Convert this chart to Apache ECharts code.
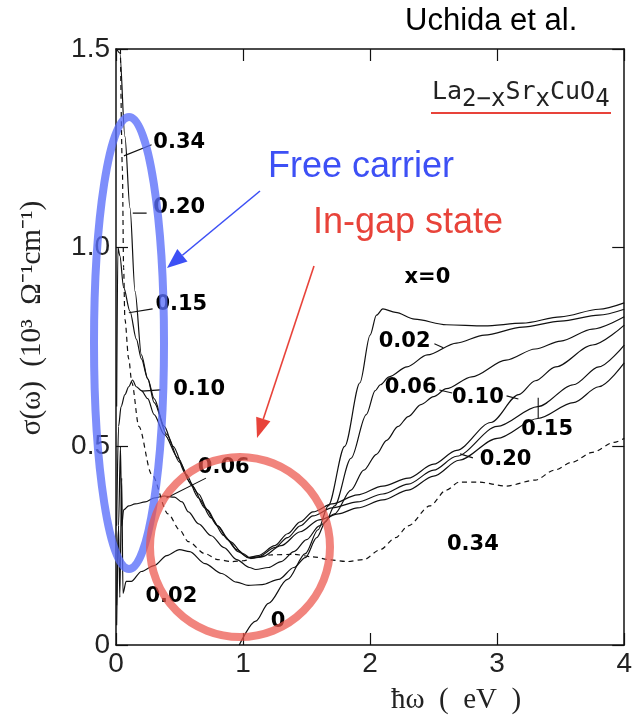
<!DOCTYPE html>
<html><head><meta charset="utf-8">
<script src="https://cdn.jsdelivr.net/npm/echarts/dist/echarts.min.js"></script>
<style>html,body{margin:0;padding:0;background:#fff}#c{width:635px;height:719px}</style>
</head><body><div id="c"></div><script>
// ---- data (photon energy eV, sigma 10^3 Ohm^-1 cm^-1) ----
const xTicks = [0, 1, 2, 3, 4];
const yTicks = [0, 0.5, 1.0, 1.5];
const curve_x000 = [[0.97,0],[1.1,0.06],[1.2,0.105],[1.35,0.165],[1.49,0.23],[1.59,0.29],[1.67,0.35],[1.8,0.5],[1.92,0.66],[2.0,0.78],[2.05,0.83],[2.1,0.846],[2.2,0.837],[2.35,0.82],[2.6,0.806],[2.9,0.803],[3.2,0.81],[3.5,0.826],[3.8,0.845],[4.0,0.861]];
const curve_x002 = [[0.005,0.05],[0.02,0.3],[0.03,0.12],[0.045,0.42],[0.055,0.13],[0.08,0.16],[0.12,0.16],[0.2,0.185],[0.3,0.2],[0.4,0.225],[0.5,0.24],[0.58,0.235],[0.7,0.205],[0.83,0.18],[0.95,0.158],[1.04,0.15],[1.15,0.152],[1.28,0.165],[1.4,0.195],[1.49,0.22],[1.58,0.27],[1.65,0.31],[1.72,0.35],[1.85,0.47],[1.97,0.58],[2.04,0.64],[2.08,0.655],[2.15,0.675],[2.29,0.70],[2.45,0.73],[2.68,0.76],[2.9,0.78],[3.2,0.80],[3.5,0.815],[3.8,0.83],[4.0,0.845]];
const curve_x006 = [[0.005,0.1],[0.02,0.3],[0.035,0.5],[0.045,0.3],[0.06,0.34],[0.1,0.35],[0.15,0.355],[0.23,0.36],[0.3,0.37],[0.38,0.375],[0.46,0.372],[0.52,0.36],[0.57,0.335],[0.65,0.305],[0.75,0.275],[0.85,0.245],[0.95,0.215],[1.05,0.195],[1.1,0.19],[1.2,0.195],[1.3,0.21],[1.4,0.235],[1.5,0.265],[1.6,0.3],[1.72,0.33],[1.85,0.39],[1.95,0.44],[2.05,0.48],[2.13,0.515],[2.22,0.55],[2.3,0.575],[2.4,0.605],[2.5,0.625],[2.6,0.645],[2.8,0.675],[3.07,0.717],[3.3,0.745],[3.5,0.765],[3.75,0.795],[4.0,0.826]];
const curve_x010 = [[0.005,0.3],[0.02,0.55],[0.04,0.6],[0.07,0.63],[0.1,0.65],[0.13,0.667],[0.16,0.65],[0.2,0.64],[0.25,0.62],[0.3,0.58],[0.38,0.53],[0.49,0.47],[0.58,0.41],[0.65,0.38],[0.72,0.34],[0.8,0.30],[0.88,0.265],[0.96,0.235],[1.04,0.22],[1.12,0.225],[1.25,0.25],[1.35,0.28],[1.45,0.31],[1.55,0.335],[1.7,0.355],[1.9,0.378],[2.1,0.40],[2.3,0.42],[2.5,0.455],[2.68,0.49],[2.95,0.56],[3.17,0.63],[3.3,0.665],[3.46,0.70],[3.75,0.755],[4.0,0.805]];
const curve_x015 = [[0.005,0.6],[0.015,1.0],[0.03,0.98],[0.06,0.9],[0.11,0.84],[0.16,0.77],[0.2,0.72],[0.25,0.67],[0.3,0.62],[0.38,0.55],[0.45,0.5],[0.55,0.43],[0.65,0.37],[0.75,0.32],[0.85,0.275],[0.95,0.24],[1.04,0.22],[1.12,0.222],[1.25,0.245],[1.35,0.27],[1.45,0.30],[1.55,0.325],[1.7,0.345],[1.9,0.36],[2.1,0.38],[2.3,0.405],[2.5,0.44],[2.68,0.475],[3.0,0.55],[3.32,0.60],[3.6,0.655],[3.8,0.70],[4.0,0.755]];
const curve_x020 = [[0.005,1.5],[0.03,1.49],[0.07,1.28],[0.11,1.1],[0.15,0.89],[0.2,0.73],[0.25,0.67],[0.3,0.61],[0.4,0.53],[0.5,0.46],[0.6,0.40],[0.7,0.345],[0.8,0.30],[0.9,0.26],[1.0,0.23],[1.06,0.218],[1.15,0.222],[1.3,0.25],[1.45,0.285],[1.6,0.315],[1.75,0.33],[1.9,0.345],[2.1,0.365],[2.3,0.39],[2.5,0.425],[2.7,0.465],[3.0,0.52],[3.32,0.57],[3.6,0.61],[3.8,0.65],[4.0,0.71]];
const curve_x034 = [[0.035,1.5],[0.05,1.2],[0.06,0.95],[0.07,0.82],[0.1,0.72],[0.125,0.66],[0.18,0.55],[0.28,0.43],[0.41,0.33],[0.5,0.29],[0.57,0.26],[0.7,0.23],[0.8,0.215],[0.91,0.21],[1.0,0.212],[1.1,0.22],[1.22,0.227],[1.4,0.228],[1.55,0.222],[1.69,0.214],[1.82,0.21],[1.95,0.215],[2.08,0.24],[2.2,0.27],[2.3,0.30],[2.47,0.35],[2.6,0.39],[2.7,0.41],[2.85,0.41],[3.07,0.40],[3.3,0.415],[3.45,0.44],[3.59,0.46],[3.75,0.485],[3.92,0.51],[4.0,0.52]];
const curveNames = ['0','0.02','0.06','0.10','0.15','0.20','0.34'];
const curveData = [curve_x000, curve_x002, curve_x006, curve_x010, curve_x015, curve_x020, curve_x034];
const curveDashed = [false,false,false,false,false,false,true];
// curve labels (text, energy, sigma)
const labelTexts = ['0.34','0.20','0.15','0.10','0.06','0.02','0','x=0','0.02','0.06','0.10','0.15','0.20','0.34'];
const labelE = [0.498,0.498,0.514,0.654,0.848,0.436,1.276,2.451,2.272,2.319,2.848,3.393,3.066,2.809];
const labelS = [1.264,1.102,0.856,0.642,0.4455,0.123,0.058,0.924,0.763,0.649,0.624,0.541,0.468,0.252];
// leader lines [e1,s1,e2,s2]
const leaders = [[0.28,1.259,0.062,1.231],[0.241,1.087,0.132,1.087],[0.288,0.846,0.101,0.836],[0.35,0.642,0.202,0.639],[0.708,0.42,0.397,0.37],[2.506,0.758,2.576,0.748],[2.545,0.642,2.646,0.634],[3.074,0.627,3.167,0.619],[3.323,0.622,3.323,0.571],[2.809,0.471,2.708,0.481]];

const chart = echarts.init(document.getElementById('c'), null, {renderer:'canvas'});
const axisLineStyle = {color:'#111', width:1.5};
const tickStyle = {color:'#111', width:1.2};
const labelFont = {fontSize:28, color:'#222', fontFamily:'Liberation Sans, Arial, sans-serif'};

const series = curveData.map((d,i)=>({
  type:'line', name:curveNames[i], data:d, showSymbol:false, smooth:0.3, smoothMonotone:'x', silent:true,
  lineStyle:{color:'#111', width:1.2, type: curveDashed[i] ? [5,4] : 'solid'}, z:3
}));
leaders.forEach(l=>series.push({type:'line', data:[[l[0],l[1]],[l[2],l[3]]], showSymbol:false, silent:true, lineStyle:{color:'#111', width:1.1}, z:3}));
series.push({
  type:'scatter', symbol:'circle', symbolSize:0, itemStyle:{color:'rgba(0,0,0,0)'}, silent:true, z:4,
  data: labelTexts.map((t,i)=>({name:t, value:[labelE[i], labelS[i]]})),
  label:{show:true, position:'inside', formatter:'{b}', fontSize:21, fontWeight:'bold', fontFamily:'DejaVu Sans, sans-serif', color:'#000', opacity:1}
});

function arrow(x1,y1,x2,y2,color,hl,hw){
  const a = Math.atan2(y2-y1,x2-x1);
  const bx = x2 - hl*Math.cos(a), by = y2 - hl*Math.sin(a);
  const px = -Math.sin(a)*hw/2, py = Math.cos(a)*hw/2;
  return [
    {type:'line', z:100, shape:{x1:x1,y1:y1,x2:bx,y2:by}, style:{stroke:color, lineWidth:1.6}},
    {type:'polygon', z:100, shape:{points:[[x2,y2],[bx+px,by+py],[bx-px,by-py]]}, style:{fill:color}}
  ];
}
const blue = '#3d50f5', red = '#e8433a';
const graphic = [
  {type:'text', z:100, x:405, y:21, style:{text:'Uchida et al.', fontSize:31, fontFamily:'Liberation Sans, Arial, sans-serif', fill:'#000', textVerticalAlign:'middle'}},
  {type:'text', z:100, x:432, y:96, style:{text:'{n|La}{s|2−x}{n|Sr}{s|x}{n|CuO}{s|4}', fill:'#222', textVerticalAlign:'middle',
     rich:{n:{fontSize:25, fontFamily:'DejaVu Sans Mono, monospace', fill:'#222', verticalAlign:'top', padding:[0,0,7,0]}, s:{fontSize:24, fontFamily:'DejaVu Sans Mono, monospace', fill:'#222', verticalAlign:'bottom', padding:[7,0,0,0]}}}},
  {type:'line', z:100, shape:{x1:431,y1:113,x2:611,y2:113}, style:{stroke:red, lineWidth:2}},
  {type:'text', z:100, x:268, y:167, style:{text:'Free carrier', fontSize:36, fontFamily:'Liberation Sans, Arial, sans-serif', fill:blue, textVerticalAlign:'middle'}},
  {type:'text', z:100, x:313, y:223, style:{text:'In-gap state', fontSize:36, fontFamily:'Liberation Sans, Arial, sans-serif', fill:red, textVerticalAlign:'middle'}},
  {type:'ellipse', z:100, shape:{cx:129, cy:343, rx:35, ry:226}, style:{fill:'none', stroke:'rgba(90,110,250,0.78)', lineWidth:8}},
  {type:'circle', z:100, shape:{cx:240, cy:547, r:90}, style:{fill:'none', stroke:'rgba(235,85,75,0.72)', lineWidth:8}},
  ...arrow(260,191,167,268,blue,20,16),
  ...arrow(314,266,257,438,red,20,15),
  {type:'text', z:100, x:32, y:318, rotation:Math.PI/2, style:{text:'σ(ω)  (10³  Ω⁻¹cm⁻¹)', fontSize:29, fontFamily:'Liberation Serif, Times New Roman, serif', fill:'#222', textAlign:'center', textVerticalAlign:'middle'}},
  {type:'text', z:100, x:456, y:700, style:{text:'ħω  (  eV  )', fontSize:29, fontFamily:'Liberation Serif, Times New Roman, serif', fill:'#222', textAlign:'center', textVerticalAlign:'middle'}}
];

const xBase = {type:'value', min:xTicks[0], max:xTicks[xTicks.length-1], interval:1, splitLine:{show:false},
  axisLine:{show:true, onZero:false, lineStyle:axisLineStyle}, axisTick:{show:true, inside:true, length:12, lineStyle:tickStyle}};
const yBase = {type:'value', min:yTicks[0], max:yTicks[yTicks.length-1], interval:0.5, splitLine:{show:false},
  axisLine:{show:true, onZero:false, lineStyle:axisLineStyle}, axisTick:{show:true, inside:true, length:12, lineStyle:tickStyle}};

chart.setOption({
  animation:false,
  backgroundColor:'#fff',
  grid:{left:116, right:5, top:49, bottom:74, containLabel:false},
  xAxis:[
    Object.assign({}, xBase, {position:'bottom', axisLabel:Object.assign({margin:5}, labelFont)}),
    Object.assign({}, xBase, {position:'top', axisLabel:{show:false}})
  ],
  yAxis:[
    Object.assign({}, yBase, {position:'left', axisLabel:Object.assign({margin:6, formatter:v=> v===0?'0':v.toFixed(1)}, labelFont)}),
    Object.assign({}, yBase, {position:'right', axisLabel:{show:false}})
  ],
  series: series,
  graphic: graphic
});
</script></body></html>
